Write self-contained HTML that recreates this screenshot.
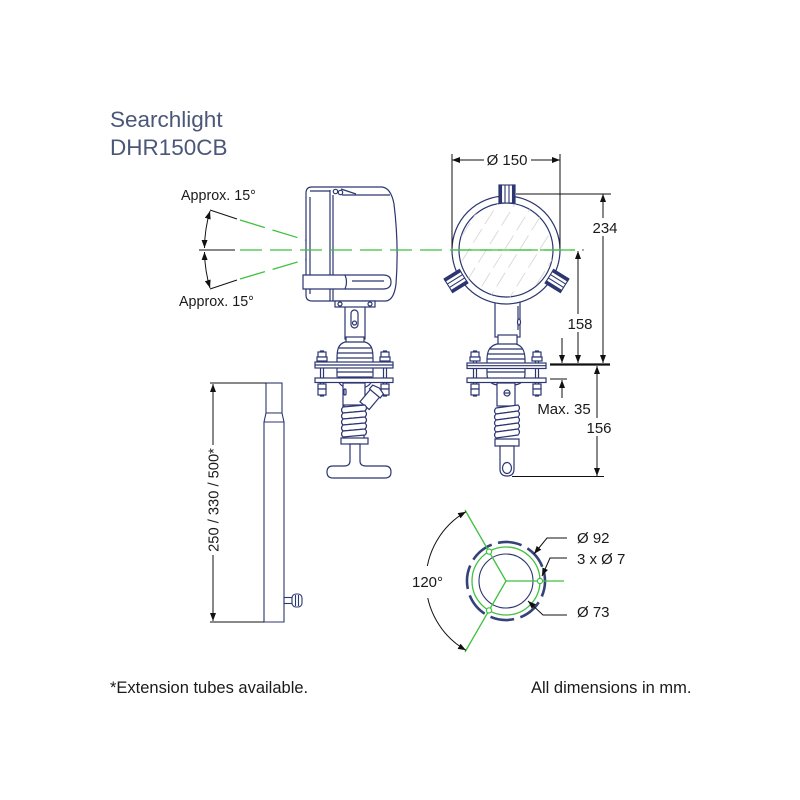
<!DOCTYPE html>
<html>
<head>
<meta charset="utf-8">
<style>
  html,body{margin:0;padding:0;background:#fff;}
  svg{display:block;}
  text{font-family:"Liberation Sans",Arial,sans-serif;}
</style>
</head>
<body>
<svg width="800" height="800" viewBox="0 0 800 800" xmlns="http://www.w3.org/2000/svg">
<defs>
  <marker id="ar" viewBox="0 0 8 6" refX="8" refY="3" markerWidth="8" markerHeight="6" markerUnits="userSpaceOnUse" orient="auto-start-reverse">
    <path d="M0,0 L8,3 L0,6 z" fill="#111"/>
  </marker>
  <clipPath id="glass"><circle cx="506" cy="250" r="47"/></clipPath>
</defs>
<rect width="800" height="800" fill="#fff"/>

<!-- Title -->
<text x="110" y="127" font-size="22.5" fill="#4b5779">Searchlight</text>
<text x="110" y="155" font-size="22.5" fill="#4b5779">DHR150CB</text>

<!-- Beam angle -->
<text x="181" y="200" font-size="14.3" fill="#1a1a1a">Approx. 15°</text>
<text x="179" y="306" font-size="14.3" fill="#1a1a1a">Approx. 15°</text>
<g stroke="#111" stroke-width="1" fill="none">
  <line x1="210" y1="210" x2="237" y2="219"/>
  <line x1="210" y1="289" x2="237" y2="280"/>
  <line x1="199" y1="250" x2="235" y2="250"/>
  <path d="M204.5,248 A134,134 0 0 1 210,211" marker-start="url(#ar)" marker-end="url(#ar)"/>
  <path d="M204.5,252 A134,134 0 0 0 210,288" marker-start="url(#ar)" marker-end="url(#ar)"/>
</g>
<g stroke="#3fc13f" stroke-width="1.3" fill="none">
  <line x1="240" y1="220" x2="338" y2="250" stroke-dasharray="26 8"/>
  <line x1="240" y1="279" x2="338" y2="250" stroke-dasharray="26 8"/>
</g>

<!-- Side view body -->
<g stroke="#2c3670" stroke-width="1.2" fill="#fff">
  <rect x="345" y="305" width="20" height="34"/>
  <rect x="351" y="310" width="7" height="18" rx="3.5"/>
  <circle cx="354.5" cy="323" r="2"/>
  <path d="M312,187 L382,187 Q391,188 394,204 Q399,245 396,284 Q394,300 386,301 L312,301 Q306,301 306,295 L306,193 Q306,187 312,187 Z"/>
  <line x1="310" y1="197" x2="310" y2="294"/>
  <line x1="330" y1="190" x2="330" y2="301"/>
  <line x1="333" y1="195" x2="333" y2="301"/>
  <line x1="310" y1="191" x2="330" y2="191"/>
  <line x1="342" y1="195" x2="390" y2="195"/>
  <line x1="341" y1="189" x2="356" y2="194"/>
  <circle cx="335.5" cy="191.5" r="2.2"/>
  <circle cx="340.5" cy="192.5" r="2.2"/>
  <path d="M303,275 L383,275 Q391,275 391,282 Q391,289 383,289 L303,289 Z"/>
  <path d="M345,275 Q348,282 345,289" fill="none"/>
  <line x1="352" y1="281" x2="384" y2="281"/>
  <rect x="335" y="301" width="40" height="6"/>
  <circle cx="340" cy="304" r="2"/>
  <circle cx="370" cy="304" r="2"/>
  <rect x="346" y="337" width="18" height="6"/>
  <path d="M345,342 C338,344 337,350 337,359 L337,375 C337,383 342,388 350,388 L360,388 C368,388 373,383 373,375 L373,359 C373,350 372,344 365,342 Z"/>
  <line x1="339" y1="348" x2="371" y2="348"/>
  <line x1="337.5" y1="353" x2="372.5" y2="353"/>
  <line x1="337" y1="358" x2="373" y2="358"/>
  <line x1="337" y1="372" x2="373" y2="372"/>
  <line x1="338" y1="377" x2="372" y2="377"/>
  <rect x="320.5" y="351" width="3" height="45"/>
  <rect x="383.5" y="351" width="3" height="45"/>
  <rect x="318" y="352" width="8" height="5"/>
  <rect x="317" y="357" width="10" height="4"/>
  <rect x="381" y="352" width="8" height="5"/>
  <rect x="380" y="357" width="10" height="4"/>
  <rect x="318" y="384" width="8" height="5"/>
  <rect x="318" y="389" width="8" height="6"/>
  <rect x="381" y="384" width="8" height="5"/>
  <rect x="381" y="389" width="8" height="6"/>
  <rect x="315" y="362" width="78" height="6"/>
  <line x1="315" y1="365" x2="393" y2="365"/>
  <rect x="315" y="378" width="78" height="4.5"/>
  <rect x="343" y="383" width="22" height="23"/>
  <rect x="344" y="389" width="2" height="6" rx="1"/>
  <g transform="translate(371,398) rotate(-50)">
    <rect x="-10" y="-6" width="16" height="12"/>
    <path d="M6,-7 L11,-7 L13,0 L11,7 L6,7 Z"/>
  </g>
  <rect x="344" y="405" width="20" height="34" fill="#fff"/>
  <path d="M343,407 L365,405 Q368,408 365,411 L343,413 Q340,410 343,407 Z"/>
  <path d="M343,413 L365,411 Q368,414 365,417 L343,419 Q340,416 343,413 Z"/>
  <path d="M343,419 L365,417 Q368,420 365,423 L343,425 Q340,422 343,419 Z"/>
  <path d="M343,425 L365,423 Q368,426 365,429 L343,431 Q340,428 343,425 Z"/>
  <path d="M343,431 L365,429 Q368,432 365,435 L343,437 Q340,434 343,431 Z"/>
  <rect x="341" y="438" width="27" height="6"/>
  <path d="M350,444 L350,461 Q350,466 344,466 L333,466 Q327,466 327,472 Q327,478 333,478 L385,478 Q391,478 391,472 Q391,466 385,466 L366,466 Q360,466 360,461 L360,444 Z"/>
</g>

<!-- Front view -->
<g stroke="#2c3670" stroke-width="1.2" fill="#fff">
  <rect x="495" y="300" width="25" height="37"/>
  <line x1="518" y1="306" x2="518" y2="330"/>
  <ellipse cx="519" cy="322" rx="1.5" ry="3"/>
  <circle cx="506" cy="250" r="54"/>
  <circle cx="506" cy="250" r="47"/>
</g>
<g clip-path="url(#glass)" stroke="#d8d8d8" stroke-width="0.9" stroke-dasharray="16 6" fill="none">
  <line x1="450" y1="280" x2="500" y2="200"/>
  <line x1="455" y1="300" x2="520" y2="196"/>
  <line x1="470" y1="305" x2="540" y2="193"/>
  <line x1="485" y1="305" x2="555" y2="193"/>
  <line x1="505" y1="305" x2="565" y2="209"/>
  <line x1="525" y1="303" x2="565" y2="239"/>
  <line x1="450" y1="255" x2="485" y2="199"/>
</g>
<g stroke="#2c3670" stroke-width="1.1">
  <g transform="translate(507,194) rotate(-90)">
    <rect x="-9" y="-8" width="18" height="16" fill="#fff"/>
    <rect x="-9" y="-8" width="18" height="2.5" fill="#2c3670"/>
    <rect x="-9" y="5.5" width="18" height="2.5" fill="#2c3670"/>
    <line x1="-9" y1="-2" x2="9" y2="-2"/>
    <line x1="-9" y1="2" x2="9" y2="2"/>
  </g>
  <g transform="translate(456,281) rotate(148)">
    <rect x="-9" y="-8" width="18" height="16" fill="#fff"/>
    <rect x="-9" y="-8" width="18" height="2.5" fill="#2c3670"/>
    <rect x="-9" y="5.5" width="18" height="2.5" fill="#2c3670"/>
    <line x1="-9" y1="-2" x2="9" y2="-2"/>
    <line x1="-9" y1="2" x2="9" y2="2"/>
  </g>
  <g transform="translate(557,281) rotate(32)">
    <rect x="-9" y="-8" width="18" height="16" fill="#fff"/>
    <rect x="-9" y="-8" width="18" height="2.5" fill="#2c3670"/>
    <rect x="-9" y="5.5" width="18" height="2.5" fill="#2c3670"/>
    <line x1="-9" y1="-2" x2="9" y2="-2"/>
    <line x1="-9" y1="2" x2="9" y2="2"/>
  </g>
</g>
<g stroke="#2c3670" stroke-width="1.2" fill="#fff">
  <rect x="498" y="335" width="19" height="10"/>
  <path d="M497,344 C489,346 487,352 487,360 L487,374 C487,381 492,385 499,385 L513,385 C520,385 525,381 525,374 L525,360 C525,352 523,346 516,344 Z"/>
  <line x1="489" y1="349" x2="523" y2="349"/>
  <line x1="487.5" y1="354" x2="524.5" y2="354"/>
  <line x1="487" y1="359" x2="525" y2="359"/>
  <line x1="487" y1="372" x2="525" y2="372"/>
  <rect x="473.5" y="351" width="3" height="45"/>
  <rect x="535.5" y="351" width="3" height="45"/>
  <rect x="471" y="352" width="8" height="5"/>
  <rect x="470" y="357" width="10" height="4"/>
  <rect x="533" y="352" width="8" height="5"/>
  <rect x="532" y="357" width="10" height="4"/>
  <rect x="471" y="384" width="8" height="5"/>
  <rect x="471" y="389" width="8" height="6"/>
  <rect x="533" y="384" width="8" height="5"/>
  <rect x="533" y="389" width="8" height="6"/>
  <rect x="467" y="363" width="79" height="5.5"/>
  <line x1="467" y1="365.7" x2="546" y2="365.7"/>
  <rect x="467" y="378" width="79" height="4.5"/>
  <rect x="497" y="383" width="18" height="23"/>
  <circle cx="507" cy="393" r="3"/>
  <line x1="504.5" y1="393" x2="509.5" y2="393"/>
  <path d="M496,408 L518,405 Q521,408 518,411 L496,414 Q493,411 496,408 Z"/>
  <path d="M496,414 L518,411 Q521,414 518,417 L496,420 Q493,417 496,414 Z"/>
  <path d="M496,420 L518,417 Q521,420 518,423 L496,426 Q493,423 496,420 Z"/>
  <path d="M496,426 L518,423 Q521,426 518,429 L496,432 Q493,429 496,426 Z"/>
  <path d="M496,432 L518,429 Q521,432 518,435 L496,438 Q493,435 496,432 Z"/>
  <rect x="495" y="439" width="24" height="7"/>
  <path d="M500,446 L500,469 Q500,476 507,476 Q514,476 514,469 L514,446 Z"/>
  <ellipse cx="507" cy="468" rx="4.5" ry="5.5"/>
</g>

<!-- centre beam line -->
<line x1="240" y1="250" x2="575" y2="250" stroke="#3fc13f" stroke-width="1.3" stroke-dasharray="22 8"/>
<line x1="452" y1="250" x2="575" y2="250" stroke="#3fc13f" stroke-width="1.3" stroke-dasharray="40 6"/>
<circle cx="583" cy="250" r="0.7" fill="#333"/>

<!-- dimensions front -->
<g stroke="#111" stroke-width="1" fill="none">
  <line x1="452" y1="154" x2="452" y2="248"/>
  <line x1="560" y1="154" x2="560" y2="248"/>
  <line x1="484" y1="160" x2="452" y2="160" marker-end="url(#ar)"/>
  <line x1="531" y1="160" x2="560" y2="160" marker-end="url(#ar)"/>
  <line x1="516" y1="194" x2="611" y2="194"/>
  <line x1="603" y1="194" x2="603" y2="363" marker-start="url(#ar)" marker-end="url(#ar)"/>
  <line x1="578" y1="251" x2="578" y2="363" marker-start="url(#ar)" marker-end="url(#ar)"/>
  <line x1="562" y1="338" x2="562" y2="363" marker-end="url(#ar)"/>
  <line x1="550" y1="364.5" x2="610" y2="364.5" stroke-width="2.2"/>
  <line x1="550" y1="379" x2="567" y2="379"/>
  <line x1="562" y1="398" x2="562" y2="380" marker-end="url(#ar)"/>
  <line x1="597" y1="366" x2="597" y2="476" marker-start="url(#ar)" marker-end="url(#ar)"/>
  <line x1="512" y1="476.5" x2="604" y2="476.5"/>
</g>
<text x="507" y="165" font-size="15" text-anchor="middle" fill="#1a1a1a">Ø 150</text>
<rect x="592" y="218" width="27" height="18" fill="#fff"/>
<text x="605" y="233" font-size="15" text-anchor="middle" fill="#1a1a1a">234</text>
<rect x="566" y="314" width="27" height="18" fill="#fff"/>
<text x="580" y="329" font-size="15" text-anchor="middle" fill="#1a1a1a">158</text>
<text x="564" y="414" font-size="15" text-anchor="middle" fill="#1a1a1a">Max. 35</text>
<rect x="586" y="418" width="27" height="18" fill="#fff"/>
<text x="599" y="433" font-size="15" text-anchor="middle" fill="#1a1a1a">156</text>

<!-- Extension tube -->
<g stroke="#2c3670" stroke-width="1.1" fill="#fff">
  <rect x="266" y="383" width="16" height="30"/>
  <path d="M266,413 L264,422 L264,622 L284,622 L284,422 L282,413 Z"/>
  <line x1="264" y1="422" x2="284" y2="422"/>
  <rect x="284" y="597.5" width="8" height="6"/>
  <rect x="292" y="594" width="10" height="13" rx="4"/>
  <line x1="295.5" y1="595" x2="295.5" y2="606"/>
  <line x1="298.5" y1="595" x2="298.5" y2="606"/>
</g>
<g stroke="#111" stroke-width="1" fill="none">
  <line x1="210" y1="383" x2="266" y2="383"/>
  <line x1="210" y1="622" x2="264" y2="622"/>
  <line x1="213" y1="384" x2="213" y2="621" marker-start="url(#ar)" marker-end="url(#ar)"/>
</g>
<rect x="205" y="445" width="16" height="110" fill="#fff"/>
<text transform="translate(218.5,500) rotate(-90)" font-size="14.7" text-anchor="middle" fill="#1a1a1a">250 / 330 / 500*</text>

<!-- Bolt pattern -->
<g fill="none">
  <circle cx="506" cy="581" r="39" stroke="#34427a" stroke-width="2.6" stroke-dasharray="24 6.6" transform="rotate(-12 506 581)"/>
  <circle cx="506" cy="581" r="34" stroke="#3fc13f" stroke-width="1.3"/>
  <circle cx="506" cy="581" r="27" stroke="#2c3670" stroke-width="1.1"/>
  <g stroke="#3fc13f" stroke-width="1.3">
    <line x1="506" y1="581" x2="564" y2="581"/>
    <line x1="506" y1="581" x2="465" y2="510"/>
    <line x1="506" y1="581" x2="465" y2="652"/>
  </g>
  <g stroke="#3fc13f" stroke-width="1.2" fill="#fff">
    <circle cx="540" cy="581" r="2.6"/>
    <circle cx="489" cy="551.6" r="2.6"/>
    <circle cx="489" cy="610.4" r="2.6"/>
  </g>
</g>
<g stroke="#111" stroke-width="1" fill="none">
  <path d="M466,511.7 A80,80 0 0 0 466,650.3" marker-start="url(#ar)" marker-end="url(#ar)"/>
  <polyline points="567,538 547,538 534,554" marker-end="url(#ar)"/>
  <polyline points="567,558 550,558 542,576" marker-end="url(#ar)"/>
  <polyline points="567,615 543,615 528,601" marker-end="url(#ar)"/>
</g>
<rect x="410" y="566" width="36" height="32" fill="#fff"/>
<text x="412" y="587" font-size="15" fill="#1a1a1a">120°</text>
<text x="577" y="543" font-size="15" fill="#1a1a1a">Ø 92</text>
<text x="577" y="564" font-size="15" fill="#1a1a1a">3 x Ø 7</text>
<text x="577" y="617" font-size="15" fill="#1a1a1a">Ø 73</text>

<!-- Footer -->
<text x="110" y="693" font-size="16.5" fill="#1a1a1a">*Extension tubes available.</text>
<text x="531" y="693" font-size="16.5" fill="#1a1a1a">All dimensions in mm.</text>
</svg>
</body>
</html>
